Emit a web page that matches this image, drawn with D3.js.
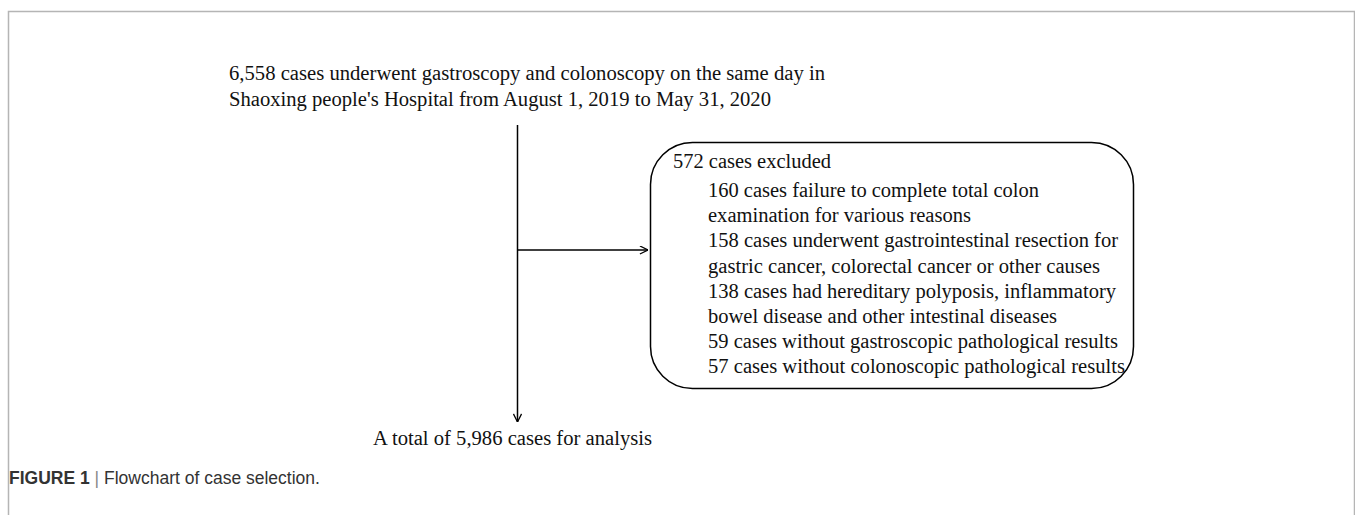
<!DOCTYPE html>
<html>
<head>
<meta charset="utf-8">
<script src="https://cdn.jsdelivr.net/npm/d3@7"></script>
<style>
  body { margin: 0; background: #fff; }
  svg { display: block; }
</style>
</head>
<body>
<div class="chart"></div>
<script>
// flowchart content
var topLines = [
    "6,558 cases underwent gastroscopy and colonoscopy on the same day in",
    "Shaoxing people's Hospital from August 1, 2019 to May 31, 2020"
];
var topRight = [825, 771];

var excludedTitle = "572 cases excluded";
var excludedLines = [
    "160 cases failure to complete total colon",
    "examination for various reasons",
    "158 cases underwent gastrointestinal resection for",
    "gastric cancer, colorectal cancer or other causes",
    "138 cases had hereditary polyposis, inflammatory",
    "bowel disease and other intestinal diseases",
    "59 cases without gastroscopic pathological results",
    "57 cases without colonoscopic pathological results"
];
var excludedRight = [1039, 971, 1118, 1100, 1116, 1057, 1118, 1125];

var finalText = "A total of 5,986 cases for analysis";
var captionBold = "FIGURE 1";
var captionText = "Flowchart of case selection.";

function init() {
    var w = 1355;
    var h = 515;
    var serif = "'Liberation Serif', 'Times New Roman', serif";

    var svg = d3.select(".chart")
        .append("svg")
        .attr("width", w)
        .attr("height", h);

    var defs = svg.append("defs");
    defs.append("marker")
        .attr("id", "arrow")
        .attr("viewBox", "0 0 10 10")
        .attr("refX", 10)
        .attr("refY", 5)
        .attr("markerWidth", 9)
        .attr("markerHeight", 9)
        .attr("markerUnits", "userSpaceOnUse")
        .attr("orient", "auto")
        .append("path")
        .attr("d", "M1,0.5 L10,5 L1,9.5")
        .attr("fill", "none")
        .attr("stroke", "#000")
        .attr("stroke-width", 1.4);

    // figure frame
    svg.append("path")
        .attr("d", "M8.5," + h + " V11.5 H1354.5 V" + h)
        .attr("fill", "none")
        .attr("stroke", "#b5b5b5")
        .attr("stroke-width", 1.5);

    // line positions
    var topY = d3.scaleLinear().domain([0, 1]).range([79.5, 106]);
    var boxY = d3.scaleLinear().domain([0, 1]).range([197, 222.2]);

    svg.append("g")
        .selectAll("text")
        .data(topLines)
        .enter()
        .append("text")
        .attr("x", 229)
        .attr("y", function(d, i) { return topY(i); })
        .attr("textLength", function(d, i) { return topRight[i] - 229; })
        .attr("lengthAdjust", "spacingAndGlyphs")
        .style("font-family", serif)
        .style("font-size", "20px")
        .attr("fill", "#111")
        .text(function(d) { return d; });

    // main vertical arrow
    var mainX = 517.5;
    svg.append("line")
        .attr("x1", mainX).attr("y1", 125)
        .attr("x2", mainX).attr("y2", 422)
        .attr("stroke", "#000")
        .attr("stroke-width", 1.5)
        .attr("marker-end", "url(#arrow)");

    // side arrow to exclusion box
    svg.append("line")
        .attr("x1", mainX).attr("y1", 250)
        .attr("x2", 648).attr("y2", 250)
        .attr("stroke", "#000")
        .attr("stroke-width", 1.5)
        .attr("marker-end", "url(#arrow)");

    // exclusion box
    svg.append("rect")
        .attr("x", 650.5)
        .attr("y", 142.5)
        .attr("width", 483)
        .attr("height", 246)
        .attr("rx", 42)
        .attr("ry", 42)
        .attr("fill", "none")
        .attr("stroke", "#000")
        .attr("stroke-width", 1.5);

    svg.append("text")
        .attr("x", 673)
        .attr("y", 168)
        .attr("textLength", 831 - 673)
        .attr("lengthAdjust", "spacingAndGlyphs")
        .style("font-family", serif)
        .style("font-size", "20px")
        .attr("fill", "#111")
        .text(excludedTitle);

    svg.append("g")
        .selectAll("text")
        .data(excludedLines)
        .enter()
        .append("text")
        .attr("x", 708)
        .attr("y", function(d, i) { return boxY(i); })
        .attr("textLength", function(d, i) { return excludedRight[i] - 708; })
        .attr("lengthAdjust", "spacingAndGlyphs")
        .style("font-family", serif)
        .style("font-size", "20px")
        .attr("fill", "#111")
        .text(function(d) { return d; });

    svg.append("text")
        .attr("x", 373)
        .attr("y", 445)
        .attr("textLength", 652 - 373)
        .attr("lengthAdjust", "spacingAndGlyphs")
        .style("font-family", serif)
        .style("font-size", "20px")
        .attr("fill", "#111")
        .text(finalText);

    // caption
    var cap = svg.append("text")
        .attr("x", 9)
        .attr("y", 484)
        .style("font-family", "'Liberation Sans', Arial, sans-serif")
        .style("font-size", "17.5px")
        .attr("fill", "#333");
    cap.append("tspan").style("font-weight", "bold").text(captionBold);
    cap.append("tspan").attr("fill", "#888").text(" | ");
    cap.append("tspan").text(captionText);
}

init()
</script>
</body>
</html>
